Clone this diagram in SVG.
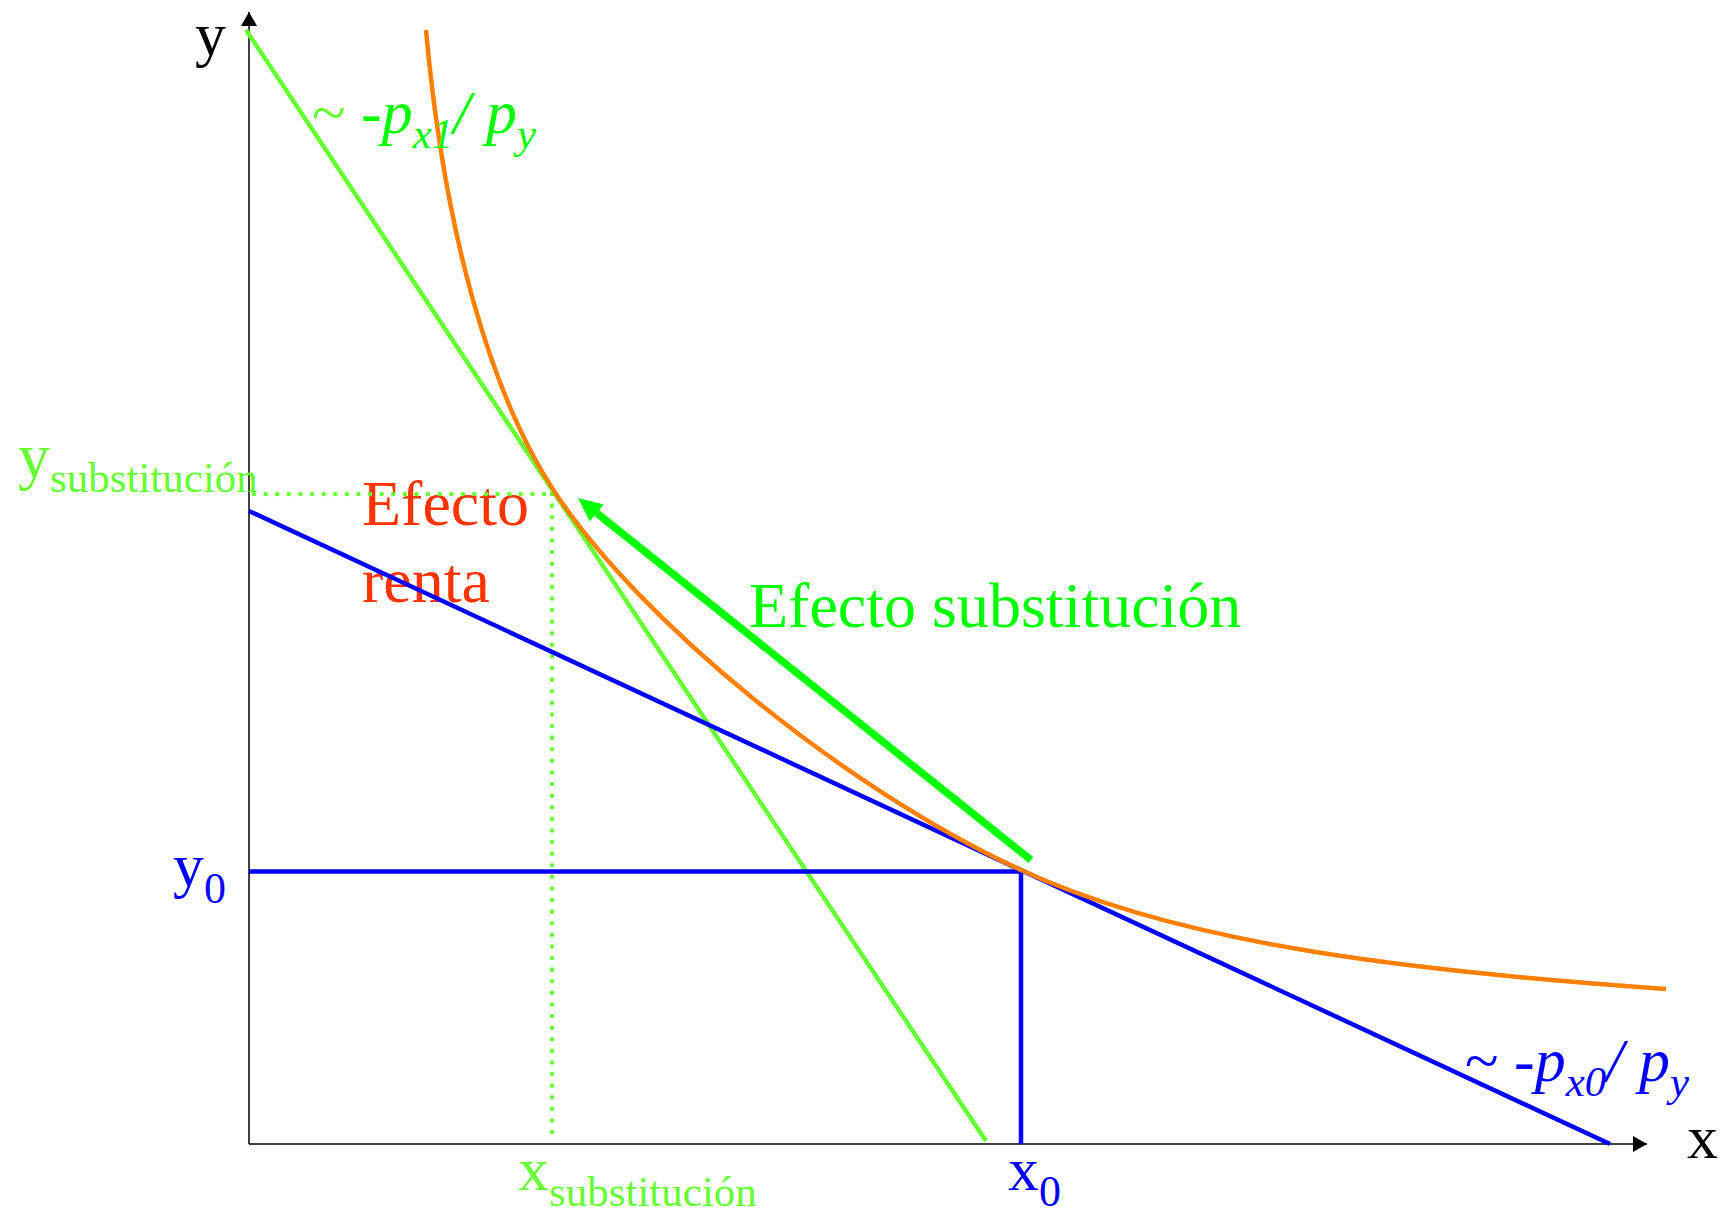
<svg xmlns="http://www.w3.org/2000/svg" width="1726" height="1215" viewBox="0 0 1726 1215">
<style>
  text { font-family: "Liberation Serif", "Times New Roman", serif; }
  .big { font-size: 62px; }
  .sub { font-size: 43px; }
  .it { font-style: italic; }
  .blue { fill: #0000FF; }
  .lgreen { fill: #66FF33; }
  .green { fill: #00FF00; }
  .red { fill: #FF3300; }
  .axis { stroke: #000; stroke-width: 1.5; fill: none; }
  .ln { fill: none; stroke-width: 4.5; }
  .dot { fill: none; stroke: #66FF33; stroke-width: 4.5; stroke-linecap: round; stroke-dasharray: 0.1 11.5; }
</style>
<defs>
  <marker id="axhead" markerUnits="userSpaceOnUse" markerWidth="16" markerHeight="16" viewBox="0 0 14 16" refX="14" refY="8" orient="auto">
    <path d="M0,0 L14,8 L0,16 Z" fill="#000"/>
  </marker>
</defs>
<rect width="1726" height="1215" fill="#fff"/>

<g id="label-efecto-renta">
  <text class="red" x="362" y="525" style="font-size:64px">Efecto</text>
  <text class="red" x="362" y="602" style="font-size:64px">renta</text>
</g>

<g id="connectors">
  <line id="y-axis" class="axis" x1="249" y1="1144" x2="249" y2="12" marker-end="url(#axhead)"/>
  <line id="x-axis" class="axis" x1="249" y1="1144" x2="1647" y2="1144" marker-end="url(#axhead)"/>
  <line id="budget1" class="ln" stroke="#66FF33" x1="246" y1="30" x2="986" y2="1141"/>
  <line class="dot" x1="254" y1="494" x2="552" y2="494"/>
  <line class="dot" x1="552" y1="494" x2="552" y2="1140"/>
  <line id="budget0" class="ln" stroke="#0000FF" x1="249" y1="511" x2="1610" y2="1144"/>
  <polyline class="ln" stroke="#0000FF" points="249,871.5 1021,871.5 1021,1144"/>
  <path id="indifference" class="ln" stroke="#FF8000" d="M426,30 C444,229 489.4,394.2 556,494 C639.2,618.8 839.5,785.9 1021,870 C1184.3,945.7 1416.6,971.55 1666,989"/>
  <g id="substitution-arrow">
    <line x1="1031" y1="860" x2="596.7" y2="513" stroke="#00FF00" stroke-width="7.5"/>
    <polygon points="578,498 603.6,504.4 589.8,521.6" fill="#00FF00"/>
  </g>
</g>

<g id="label-y">
  <text class="big" x="195" y="55" fill="#000">y</text>
</g>
<g id="label-x">
  <text class="big" x="1687" y="1158" fill="#000">x</text>
</g>
<g id="label-slope1">
  <text class="big green" x="312" y="133"><tspan class="lgreen">~</tspan> <tspan class="it">-p</tspan><tspan class="it sub" dy="15">x1</tspan><tspan class="it" dy="-15">/ p</tspan><tspan class="it sub" dy="15">y</tspan></text>
</g>
<g id="label-slope0">
  <text class="big blue" x="1465" y="1081">~ <tspan class="it">-p</tspan><tspan class="it sub" dy="15">x0</tspan><tspan class="it" dy="-15">/ p</tspan><tspan class="it sub" dy="15">y</tspan></text>
</g>
<g id="label-ysub">
  <text class="lgreen" x="18" y="477" style="font-size:64px">y<tspan class="sub" dy="15">substitución</tspan></text>
</g>
<g id="label-y0">
  <text class="blue" x="173" y="886" style="font-size:62px">y<tspan style="font-size:44px" dy="17">0</tspan></text>
</g>
<g id="label-xsub">
  <text class="lgreen" x="518" y="1190" style="font-size:62px">x<tspan class="sub" dy="16">substitución</tspan></text>
</g>
<g id="label-x0">
  <text class="blue" x="1008" y="1190" style="font-size:62px">x<tspan style="font-size:44px" dy="16">0</tspan></text>
</g>
<g id="label-efecto-sub">
  <text class="green" x="749" y="627" style="font-size:64px">Efecto substitución</text>
</g>
</svg>
